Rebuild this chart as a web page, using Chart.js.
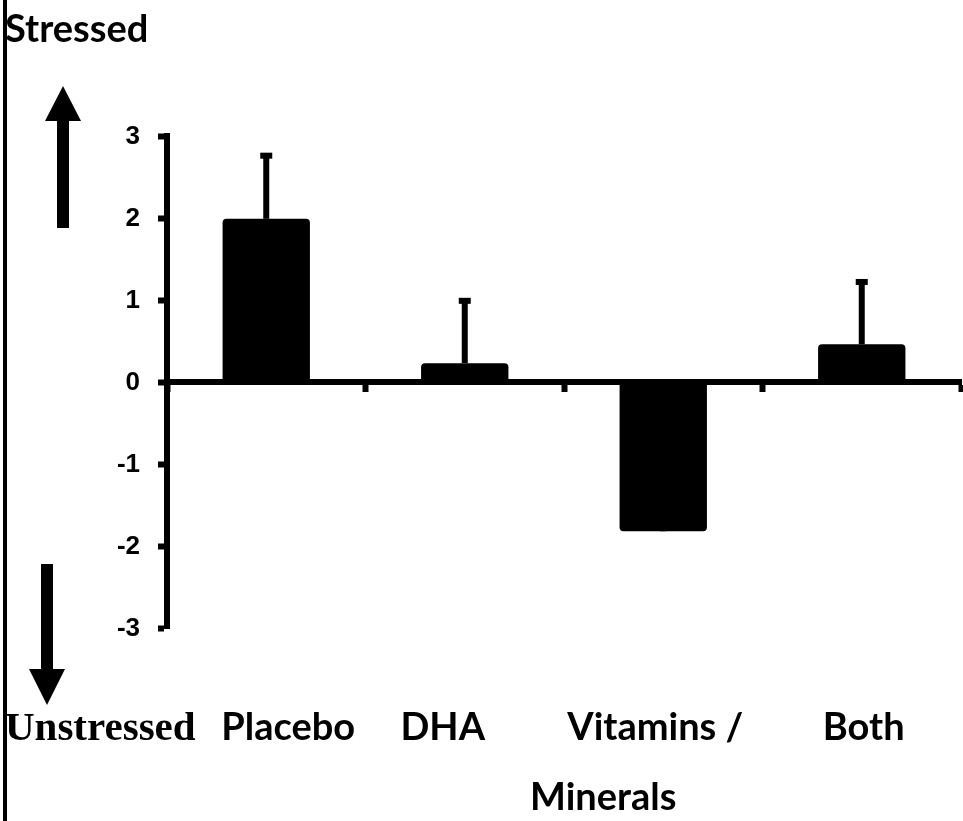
<!DOCTYPE html>
<html>
<head>
<meta charset="utf-8">
<script src="https://cdn.jsdelivr.net/npm/chart.js@4/dist/chart.umd.min.js"></script>
<style>
  html, body { margin: 0; padding: 0; background: #ffffff; }
  #wrap { position: relative; width: 963px; height: 821px; }
</style>
</head>
<body>
<div id="wrap"><canvas id="c"></canvas></div>
<script>
// Change in stress score by supplement group
const groups = ['Placebo', 'DHA', 'Vitamins / Minerals', 'Both'];
const groupLines = [['Placebo'], ['DHA'], ['Vitamins /', 'Minerals'], ['Both']];
const meanChange = [1.99, 0.23, -1.82, 0.46];
const errorPlus = [0.77, 0.76, 0.77, 0.76];
const yTicks = [-3, -2, -1, 0, 1, 2, 3];

const INK = '#000000';
const LABEL_FONT = 'bold 38px Lato, "Open Sans", sans-serif';

// One-sided (upper) error bars with a short cap
const errorBars = {
  id: 'errorBars',
  afterDatasetsDraw(chart) {
    const ctx = chart.ctx;
    const y = chart.scales.y;
    const meta = chart.getDatasetMeta(0);
    ctx.save();
    ctx.fillStyle = INK;
    meta.data.forEach((bar, i) => {
      const v = meanChange[i];
      const top = y.getPixelForValue(v + errorPlus[i]);
      const base = y.getPixelForValue(v);
      ctx.fillRect(bar.x - 3, top, 6, base - top);
      ctx.fillRect(bar.x - 6, top - 3, 12, 6);
    });
    ctx.restore();
  }
};

// Direction arrows, side captions and group names
const annotations = {
  id: 'annotations',
  afterDraw(chart) {
    const ctx = chart.ctx;
    const x = chart.scales.x;
    ctx.save();
    ctx.fillStyle = INK;

    // left margin rule
    ctx.fillRect(3, 0, 4, chart.height);

    // up arrow
    ctx.fillRect(57, 118, 12, 110);
    ctx.beginPath();
    ctx.moveTo(45, 121); ctx.lineTo(81, 121); ctx.lineTo(63, 86); ctx.closePath();
    ctx.fill();

    // down arrow
    ctx.fillRect(41, 564, 12, 108);
    ctx.beginPath();
    ctx.moveTo(29, 669); ctx.lineTo(65, 669); ctx.lineTo(47, 705); ctx.closePath();
    ctx.fill();

    ctx.textBaseline = 'alphabetic';
    ctx.textAlign = 'left';
    ctx.font = LABEL_FONT;
    ctx.fillText('Stressed', 5, 42);

    ctx.font = 'bold 41px "Liberation Serif", "Times New Roman", serif';
    ctx.fillText('Unstressed', 5, 740);

    // group names sit under the plot, nudged as in the original layout
    const shift = [22, -22, -8, 2];
    ctx.font = LABEL_FONT;
    ctx.textAlign = 'center';
    groupLines.forEach((lines, i) => {
      const cx = x.getPixelForValue(i) + shift[i];
      ctx.fillText(lines[0], cx, 740);
      if (lines[1]) ctx.fillText(lines[1], cx - 52, 810);
    });

    // value axis numbers
    const y = chart.scales.y;
    ctx.font = 'bold 26px "Liberation Sans", Arial, sans-serif';
    ctx.textAlign = 'right';
    ctx.textBaseline = 'middle';
    yTicks.forEach(v => ctx.fillText(String(v), 140, y.getPixelForValue(v) + 1));
    ctx.restore();
  }
};

new Chart(document.getElementById('c'), {
  type: 'bar',
  data: {
    labels: groups,
    datasets: [{
      data: meanChange,
      backgroundColor: INK,
      borderWidth: 0,
      borderRadius: 4,
      borderSkipped: 'start',
      barPercentage: 0.44,
      categoryPercentage: 1
    }]
  },
  options: {
    responsive: true,
    maintainAspectRatio: false,
    animation: false,
    events: [],
    layout: { padding: { left: 0, right: 2, top: 136, bottom: 193 } },
    plugins: { legend: { display: false }, tooltip: { enabled: false }, title: { display: false } },
    scales: {
      x: {
        position: { y: 0 },
        offset: true,
        ticks: { display: false },
        grid: {
          offset: true,
          drawOnChartArea: false,
          drawTicks: true,
          tickLength: 7,
          tickWidth: 6,
          tickColor: INK
        },
        border: { display: true, color: INK, width: 6 }
      },
      y: {
        min: -3,
        max: 3,
        afterFit(scale) { scale.width = 167; },
        afterBuildTicks(scale) { scale.ticks = yTicks.map(v => ({ value: v })); },
        ticks: { display: false },
        grid: {
          drawOnChartArea: false,
          drawTicks: true,
          tickLength: 9,
          tickWidth: 6,
          tickColor: INK
        },
        border: { display: true, color: INK, width: 6 }
      }
    }
  },
  plugins: [errorBars, annotations]
});
</script>
</body>
</html>
